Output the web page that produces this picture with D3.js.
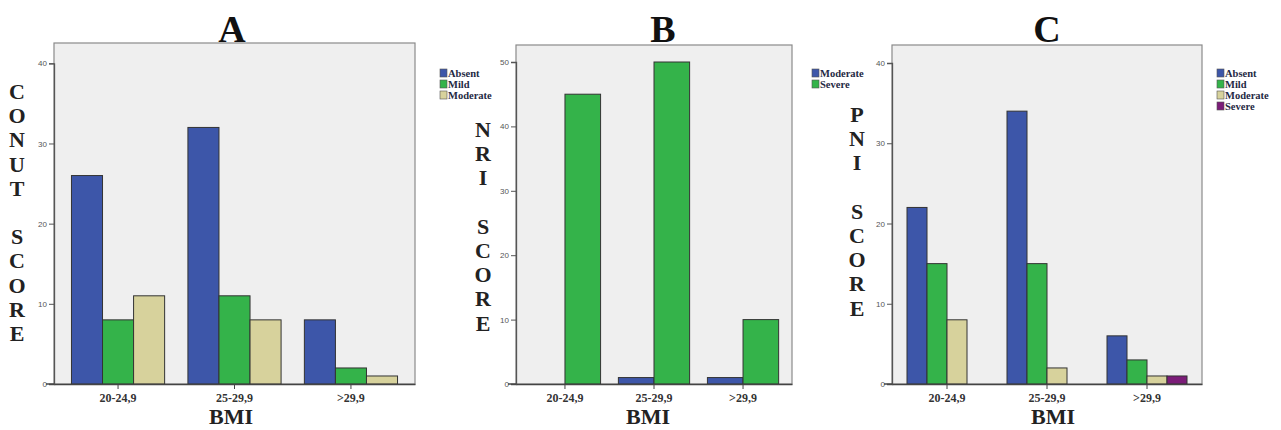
<!DOCTYPE html>
<html>
<head>
<meta charset="utf-8">
<script src="https://cdn.jsdelivr.net/npm/d3@7"></script>
<style>
  html, body { margin: 0; padding: 0; background: #ffffff; }
  svg { display: block; }
</style>
</head>
<body>
<svg id="chart" width="1281" height="430"></svg>
<script>
// ---------- DATA ----------
const categories = ["20-24,9", "25-29,9", ">29,9"];

const conutSeries = ["Absent", "Mild", "Moderate"];
const conutAbsent = [26, 32, 8];
const conutMild = [8, 11, 2];
const conutModerate = [11, 8, 1];
const conutTicks = [0, 10, 20, 30, 40];

const nriSeries = ["Moderate", "Severe"];
const nriModerate = [0, 1, 1];
const nriSevere = [45, 50, 10];
const nriTicks = [0, 10, 20, 30, 40, 50];

const pniSeries = ["Absent", "Mild", "Moderate", "Severe"];
const pniAbsent = [22, 34, 6];
const pniMild = [15, 15, 3];
const pniModerate = [8, 2, 1];
const pniSevere = [0, 0, 1];
const pniTicks = [0, 10, 20, 30, 40];

const panelTitles = ["A", "B", "C"];
const yLabels = ["CONUT SCORE", "NRI SCORE", "PNI SCORE"];
const xLabel = "BMI";

// ---------- STYLE / LAYOUT ----------
const palette = ["#3d56a9", "#34b34a", "#d7d29c", "#7b1c78"];
const serif = "'Liberation Serif', 'Times New Roman', serif";

const panels = [
  { title: panelTitles[0], ylabel: yLabels[0], series: conutSeries,
    values: [conutAbsent, conutMild, conutModerate], ticks: conutTicks,
    x0: 54, x1: 415, top: 43, bottom: 384, yTop: 63.3,
    titleX: 232, bmiX: 231, ylabX: 17, ylabY: 99, legX: 440, legY: 69 },
  { title: panelTitles[1], ylabel: yLabels[1], series: nriSeries,
    values: [nriModerate, nriSevere], ticks: nriTicks,
    x0: 516, x1: 792, top: 45, bottom: 384, yTop: 62,
    titleX: 663, bmiX: 648, ylabX: 483, ylabY: 137, legX: 812, legY: 69 },
  { title: panelTitles[2], ylabel: yLabels[2], series: pniSeries,
    values: [pniAbsent, pniMild, pniModerate, pniSevere], ticks: pniTicks,
    x0: 892, x1: 1202, top: 45, bottom: 384, yTop: 63,
    titleX: 1047, bmiX: 1053, ylabX: 857, ylabY: 122, legX: 1217, legY: 69 }
];

const svg = d3.select("#chart");

panels.forEach(p => {
  const g = svg.append("g");
  const yMaxTick = p.ticks[p.ticks.length - 1];
  const y = d3.scaleLinear().domain([0, yMaxTick]).range([p.bottom, p.yTop]);
  const x = d3.scaleBand().domain(categories).range([p.x0, p.x1])
    .paddingInner(0).paddingOuter(0.05);
  const groupW = x.bandwidth() * 0.8;
  const xs = d3.scaleBand().domain(p.series).range([0, groupW]).padding(0);

  // plot background box
  g.append("rect")
    .attr("x", p.x0).attr("y", p.top)
    .attr("width", p.x1 - p.x0).attr("height", p.bottom - p.top)
    .attr("fill", "#efefef").attr("stroke", "#8a8a8a").attr("stroke-width", 1.2);

  // bars
  const bars = [];
  p.series.forEach((s, si) => {
    categories.forEach((c, ci) => {
      const v = p.values[si][ci];
      if (v > 0) bars.push({ s, si, c, v });
    });
  });
  g.selectAll("rect.bar").data(bars).enter().append("rect")
    .attr("class", "bar")
    .attr("x", d => x(d.c) + (x.bandwidth() - groupW) / 2 + xs(d.s))
    .attr("y", d => y(d.v))
    .attr("width", xs.bandwidth())
    .attr("height", d => y(0) - y(d.v))
    .attr("fill", d => palette[d.si])
    .attr("stroke", "#333")
    .attr("stroke-width", 1);

  // y axis
  const yAxis = d3.axisLeft(y).tickValues(p.ticks).tickSize(5).tickPadding(2)
    .tickFormat(d3.format("d"));
  const ya = g.append("g").attr("transform", `translate(${p.x0},0)`).call(yAxis);
  ya.select(".domain").attr("stroke", "#555").attr("stroke-width", 1.3);
  ya.selectAll(".tick line").attr("stroke", "#555");
  ya.selectAll(".tick text").attr("fill", "#555")
    .style("font-family", "'Liberation Sans', Arial, sans-serif").style("font-size", "8px");

  // x axis
  const xAxis = d3.axisBottom(x).tickSize(5).tickPadding(4).tickSizeOuter(0);
  const xa = g.append("g").attr("transform", `translate(0,${p.bottom})`).call(xAxis);
  xa.select(".domain").attr("stroke", "#444").attr("stroke-width", 1.5);
  xa.selectAll(".tick line").attr("stroke", "#444");
  xa.selectAll(".tick text").attr("fill", "#333")
    .style("font-family", serif).style("font-weight", "bold").style("font-size", "12px");
  // small extension of the baseline to the left (SPSS style)
  g.append("line").attr("x1", p.x0 - 8).attr("x2", p.x0)
    .attr("y1", p.bottom).attr("y2", p.bottom).attr("stroke", "#444").attr("stroke-width", 1.5);

  // title
  g.append("text").attr("x", p.titleX).attr("y", 42)
    .attr("text-anchor", "middle")
    .style("font-family", serif).style("font-weight", "bold").style("font-size", "38px")
    .attr("fill", "#111").text(p.title);

  // x label
  g.append("text").attr("x", p.bmiX).attr("y", 424)
    .attr("text-anchor", "middle")
    .style("font-family", serif).style("font-weight", "bold").style("font-size", "22px")
    .attr("fill", "#222").text(xLabel);

  // y label: stacked letters
  const letters = p.ylabel.split("");
  const yl = g.append("text").attr("text-anchor", "middle")
    .style("font-family", serif).style("font-weight", "bold").style("font-size", "22px")
    .attr("fill", "#222");
  letters.forEach((ch, i) => {
    yl.append("tspan").attr("x", p.ylabX).attr("y", p.ylabY + i * 24.2)
      .text(ch === " " ? "\u00a0" : ch);
  });

  // legend
  const lg = g.append("g").attr("transform", `translate(${p.legX},${p.legY})`);
  p.series.forEach((s, i) => {
    lg.append("rect").attr("x", 0).attr("y", i * 11)
      .attr("width", 7).attr("height", 8)
      .attr("fill", palette[i]).attr("stroke", "#555").attr("stroke-width", 0.6);
    lg.append("text").attr("x", 8).attr("y", i * 11 + 7.5)
      .style("font-family", serif).style("font-weight", "bold").style("font-size", "10.5px")
      .attr("fill", "#1f2a44").text(s);
  });
});
</script>
</body>
</html>
